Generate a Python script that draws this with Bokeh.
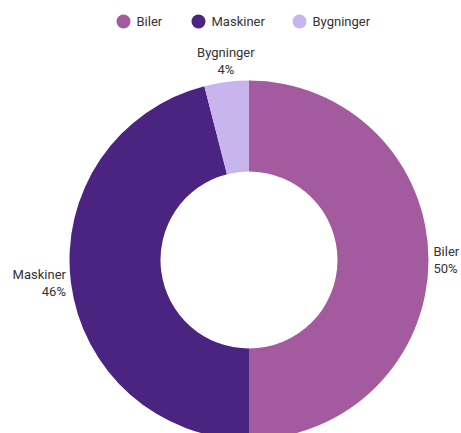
import math
from bokeh.plotting import figure
from bokeh.models import Range1d, ColumnDataSource
from bokeh.core.properties import value
from bokeh.embed import file_html
from bokeh.resources import INLINE

categories = ["Biler", "Maskiner", "Bygninger"]
shares = [50, 46, 4]
colors = ["#A35A9F", "#4A2480", "#C9B5EE"]

FONT = "Roboto"
TEXT_COLOR = "#333333"

W, H = 461, 433
p = figure(width=W, height=H, output_backend="svg", toolbar_location=None,
           x_range=Range1d(0, W), y_range=Range1d(-H, 0),
           min_border=0, x_axis_location=None, y_axis_location=None)
p.grid.visible = False
p.outline_line_color = None
p.background_fill_color = "white"
p.border_fill_color = "white"

cx, cy = 248.5, -259.5
r_out, r_in = 179.5, 88.5

total = float(sum(shares))
starts, ends, mids = [], [], []
acc = 0.0
for s in shares:
    a0 = math.pi / 2 - 2 * math.pi * acc / total
    acc += s
    a1 = math.pi / 2 - 2 * math.pi * acc / total
    starts.append(a0)
    ends.append(a1)
    mids.append((a0 + a1) / 2)

src = ColumnDataSource(dict(x=[cx] * len(shares), y=[cy] * len(shares),
                            start=starts, end=ends, color=colors))
p.annular_wedge(x="x", y="y", inner_radius=r_in, outer_radius=r_out,
                start_angle="start", end_angle="end", direction="clock",
                fill_color="color", line_color=None, source=src)

# Data labels
lx, ly, la, lb, lt = [], [], [], [], []
off = 5
for cat, s, m in zip(categories, shares, mids):
    c, sn = math.cos(m), math.sin(m)
    lx.append(cx + (r_out + off) * c)
    ly.append(cy + (r_out + off) * sn)
    if abs(c) > 0.5:
        la.append("left" if c > 0 else "right")
        lb.append("middle")
    else:
        la.append("center")
        lb.append("bottom" if sn > 0 else "top")
    lt.append(f"{cat}\n{s}%")
p.text(x=lx, y=ly, text=lt, text_align=la, text_baseline=lb,
       text_font=value(FONT), text_font_size="13px", text_color=TEXT_COLOR,
       text_line_height=1.15)

# Legend (manual, horizontal, top)
leg_x = [123, 198, 299]
leg_y = -21
p.scatter(x=leg_x, y=[leg_y] * 3, marker="circle", size=14,
          fill_color=colors, line_color=None)
p.text(x=[v + 13 for v in leg_x], y=[leg_y] * 3, text=categories,
       text_align="left", text_baseline="middle",
       text_font=value(FONT), text_font_size="13px", text_color=TEXT_COLOR)

open("out.html", "w").write(file_html(p, INLINE))
